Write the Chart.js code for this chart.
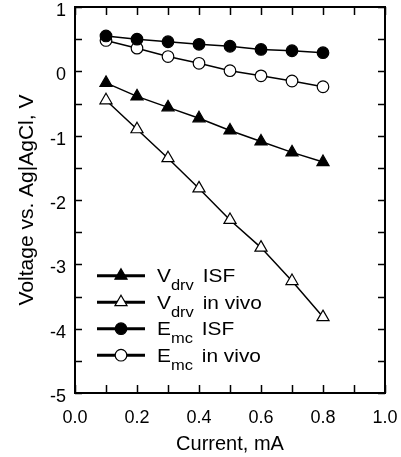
<!DOCTYPE html>
<html>
<head>
<meta charset="utf-8">
<script src="https://cdn.jsdelivr.net/npm/chart.js@4/dist/chart.umd.min.js"></script>
<style>
  html, body { margin:0; padding:0; background:#fff; }
  canvas { display:block; }
</style>
</head>
<body>
<canvas id="chart" width="401" height="457"></canvas>
<script>
// values
const currents = [0.1, 0.2, 0.3, 0.4, 0.5, 0.6, 0.7, 0.8];
const vdrvIsf  = [-0.18, -0.39, -0.56, -0.73, -0.92, -1.09, -1.26, -1.41];
const vdrvVivo = [-0.45, -0.90, -1.35, -1.82, -2.31, -2.74, -3.26, -3.82];
const emcIsf   = [0.55, 0.50, 0.46, 0.42, 0.39, 0.34, 0.32, 0.29];
const emcVivo  = [0.48, 0.36, 0.23, 0.125, 0.01, -0.07, -0.15, -0.24];

const legendMain = ["V", "V", "E", "E"];
const legendSub  = ["drv", "drv", "mc", "mc"];
const legendText = ["ISF", "in vivo", "ISF", "in vivo"];

const xTickLabels = ["0.0", "0.2", "0.4", "0.6", "0.8", "1.0"];
const yTickLabels = ["-5", "-4", "-3", "-2", "-1", "0", "1"];

const FONT = "'Liberation Sans', Arial, sans-serif";

function series(vals) {
  return vals.map((v, i) => ({ x: currents[i], y: v }));
}

function ds(vals, style, fill) {
  return {
    data: series(vals),
    borderColor: "#000",
    borderWidth: 1.5,
    pointStyle: style,
    pointRadius: style === "triangle" ? 7 : 5.8,
    pointBackgroundColor: fill,
    pointBorderColor: "#000",
    pointBorderWidth: 1.2
  };
}

// frame + inward ticks on all four sides
const framePlugin = {
  id: "frame",
  afterDatasetsDraw(chart) {
    const { ctx, chartArea: a, scales } = chart;
    ctx.save();
    ctx.strokeStyle = "#000";
    ctx.lineWidth = 1.5;
    scales.x.ticks.forEach(t => {
      const px = Math.round(scales.x.getPixelForValue(t.value)) + 0.5;
      ctx.beginPath();
      ctx.moveTo(px, a.bottom); ctx.lineTo(px, a.bottom - 8);
      ctx.moveTo(px, a.top); ctx.lineTo(px, a.top + 8);
      ctx.stroke();
    });
    scales.y.ticks.forEach(t => {
      const py = Math.round(scales.y.getPixelForValue(t.value)) + 0.5;
      ctx.beginPath();
      ctx.moveTo(a.left, py); ctx.lineTo(a.left + 7, py);
      ctx.moveTo(a.right, py); ctx.lineTo(a.right - 7, py);
      ctx.stroke();
    });
    ctx.lineWidth = 2;
    ctx.strokeRect(a.left, a.top, a.right - a.left, a.bottom - a.top);
    ctx.restore();
  }
};

// legend with subscripts, drawn inside the plot
const legendPlugin = {
  id: "subLegend",
  afterDraw(chart) {
    const { ctx, chartArea: a } = chart;
    const x0 = a.left + 22, x1 = a.left + 70, xt = a.left + 82;
    const sx = 1.1; // legend lettering is a bit wide in the original
    ctx.save();
    chart.data.datasets.forEach((d, i) => {
      const y = a.top + 268.7 + i * 26.5;
      ctx.strokeStyle = "#000";
      ctx.lineWidth = 3;
      ctx.beginPath();
      ctx.moveTo(x0, y); ctx.lineTo(x1, y);
      ctx.stroke();
      ctx.fillStyle = d.pointBackgroundColor;
      ctx.strokeStyle = "#000";
      ctx.lineWidth = 1.2;
      Chart.helpers.drawPoint(ctx, {
        pointStyle: d.pointStyle,
        radius: d.pointRadius,
        rotation: 0,
        borderWidth: 1.2
      }, (x0 + x1) / 2, y);

      ctx.save();
      ctx.translate(xt, y + 6.6);
      ctx.scale(sx, 1);
      ctx.fillStyle = "#000";
      ctx.textBaseline = "alphabetic";
      let x = 0;
      ctx.font = "19px " + FONT;
      ctx.fillText(legendMain[i], x, 0);
      x += ctx.measureText(legendMain[i]).width;
      ctx.font = "15px " + FONT;
      ctx.fillText(legendSub[i], x, 8);
      x += ctx.measureText(legendSub[i]).width + 8;
      ctx.font = "19px " + FONT;
      ctx.fillText(legendText[i], x, 0);
      ctx.restore();
    });
    ctx.restore();
  }
};

new Chart(document.getElementById("chart"), {
  type: "line",
  data: {
    datasets: [
      ds(vdrvIsf, "triangle", "#000"),
      ds(vdrvVivo, "triangle", "#fff"),
      ds(emcIsf, "circle", "#000"),
      ds(emcVivo, "circle", "#fff")
    ]
  },
  options: {
    responsive: false,
    animation: false,
    devicePixelRatio: 1,
    layout: { autoPadding: false, padding: { left: 0, top: 7, right: 16, bottom: 0 } },
    plugins: { legend: { display: false }, tooltip: { enabled: false } },
    scales: {
      x: {
        type: "linear",
        min: 0, max: 1,
        afterFit(s) { s.height = 64; s.paddingLeft = 0; s.paddingRight = 0; },
        grid: { display: false, drawTicks: false },
        border: { display: false },
        ticks: {
          stepSize: 0.1,
          autoSkip: false,
          maxRotation: 0,
          padding: 14,
          color: "#000",
          font: { family: FONT, size: 18 },
          callback: v => {
            const k = Math.round(v * 10);
            return k % 2 === 0 ? xTickLabels[k / 2] : "";
          }
        },
        title: {
          display: true,
          text: "Current, mA",
          color: "#000",
          font: { family: FONT, size: 20 },
          padding: { top: 0, bottom: 1 }
        }
      },
      y: {
        type: "linear",
        min: -5, max: 1,
        afterFit(s) { s.width = 75; s.paddingTop = 0; s.paddingBottom = 0; },
        grid: { display: false, drawTicks: false },
        border: { display: false },
        ticks: {
          stepSize: 0.5,
          autoSkip: false,
          padding: 9,
          labelOffset: 4,
          color: "#000",
          font: { family: FONT, size: 18 },
          callback: v => Number.isInteger(v) ? yTickLabels[v + 5] : ""
        },
        title: {
          display: true,
          text: "Voltage vs. Ag|AgCl, V",
          color: "#000",
          font: { family: FONT, size: 21 },
          padding: { top: 15, bottom: 0 }
        }
      }
    }
  },
  plugins: [framePlugin, legendPlugin]
});
</script>
</body>
</html>
